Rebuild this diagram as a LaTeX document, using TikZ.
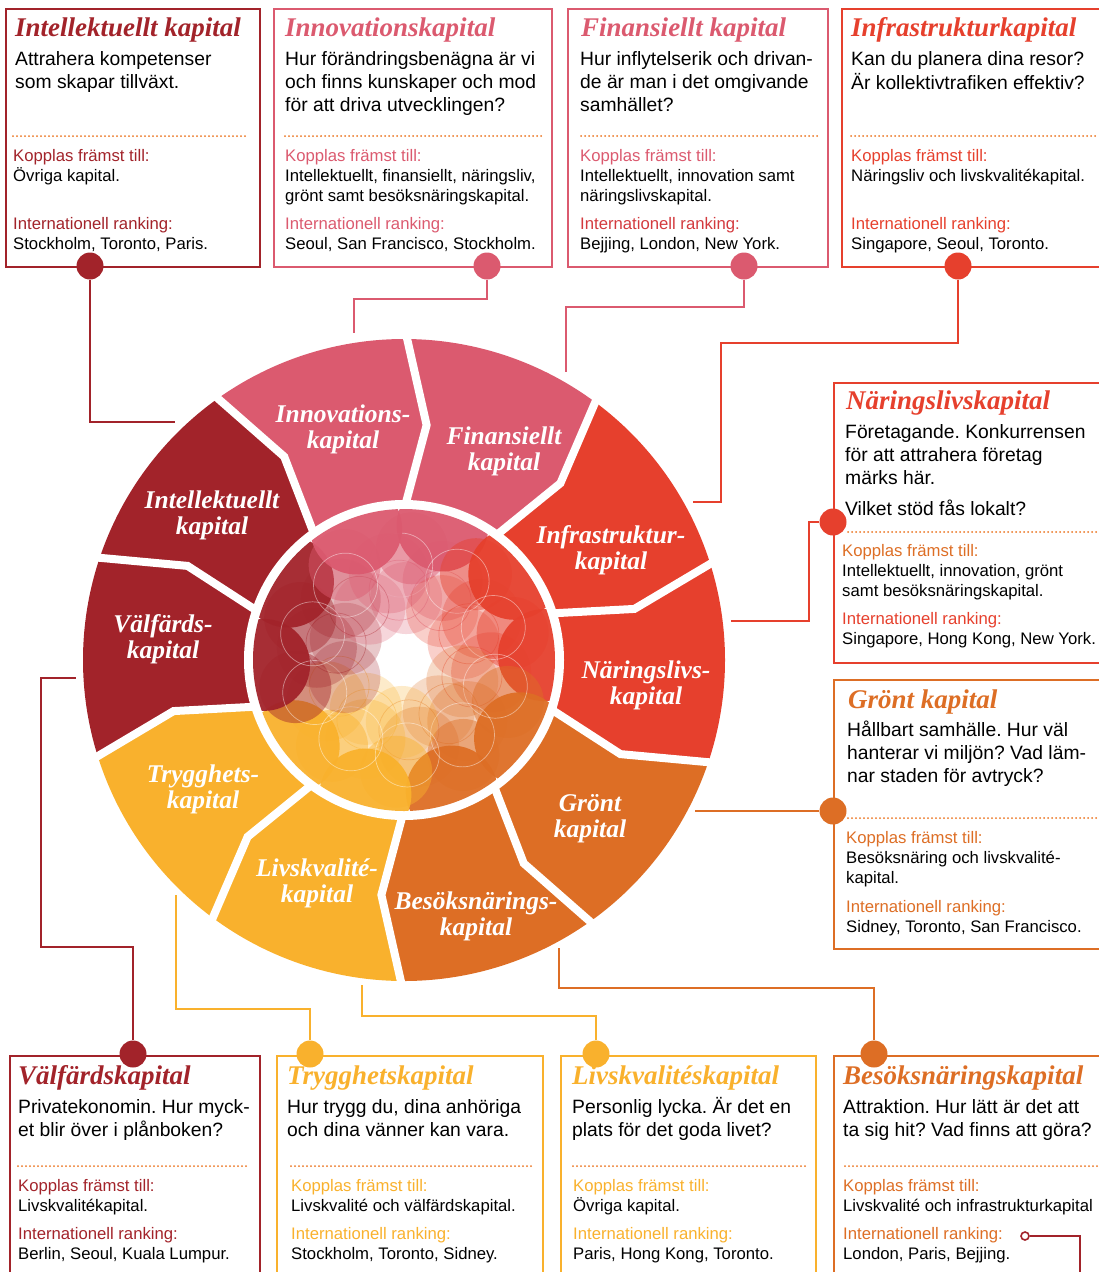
\documentclass[tikz,border=0pt]{standalone}
\usepackage{fontspec}
\setmainfont{Liberation Sans}
\newfontfamily\capfont{Liberation Serif}
\frenchspacing

\definecolor{darkredc}{HTML}{A2232A}
\definecolor{pinkc}{HTML}{DB5A6F}
\definecolor{redc}{HTML}{E6402D}
\definecolor{orangec}{HTML}{DD6E25}
\definecolor{yellowc}{HTML}{F9B12D}
\definecolor{rankred}{HTML}{D33A3E}
\definecolor{dotc}{HTML}{EA7420}

\tikzset{
  card/.style={draw=#1, line width=2.4pt, anchor=north west, inner sep=0pt},
  head/.style={text=#1, anchor=base west, inner sep=0pt, font=\capfont\bfseries\itshape\fontsize{27}{30}\selectfont},
  body/.style={anchor=north west, inner sep=0pt, align=left, font=\fontsize{19.3}{23}\selectfont},
  small/.style={anchor=north west, inner sep=0pt, align=left, font=\fontsize{16.7}{20}\selectfont},
  sepline/.style={dotc, line width=2pt, line cap=round, dash pattern=on 0pt off 4pt},
  knob/.style={circle, fill=#1, minimum size=27pt, inner sep=0pt},
  link/.style={draw=#1, line width=2.4pt},
  seglabel/.style={white, align=center, inner sep=0pt, font=\capfont\bfseries\itshape\fontsize{25.5}{26}\selectfont}
}

\begin{document}
\begin{tikzpicture}[x=1pt, y=-1pt]
\useasboundingbox (0,0) rectangle (1098,1272);

% wheel
\begin{scope}[shift={(404,660)}, yscale=-1]
  \foreach \col [count=\k from 0] in {pinkc,redc,redc,orangec,orangec,yellowc,yellowc,darkredc,darkredc,pinkc} {
    \pgfmathsetmacro\a{90-36*\k}
    \fill[\col] (\a:321) arc[start angle=\a, end angle=\a-36, radius=321]
      -- (\a-41.5:236) -- (\a-36:156) arc[start angle=\a-36, end angle=\a, radius=156]
      -- (\a-5.5:236) -- cycle;
  }
  \foreach \k in {0,...,9} {
    \pgfmathsetmacro\a{90-36*\k}
    \draw[white, line width=8pt, line join=miter] (\a:335) -- (\a-5.5:236) -- (\a:150);
  }
  \draw[white, line width=9pt] (0,0) circle[radius=155.5];
  \begin{scope}
    \clip (0,0) circle[radius=151];
    \foreach \col [count=\k from 0] in {pinkc,redc,redc,orangec,orangec,yellowc,yellowc,darkredc,darkredc,pinkc} {
      \pgfmathsetmacro\m{72-36*\k}
      \fill[\col, opacity=.25] (\m+16:62) circle[radius=36];
      \fill[\col, opacity=.3] (\m-8:88) circle[radius=40];
      \fill[\col, opacity=.45] (\m+14:112) circle[radius=36];
      \fill[\col, opacity=.95] (\m+2:140) circle[radius=46];
      \draw[white, opacity=.45, line width=.7pt] (\m+20:95) circle[radius=32];
      \draw[\col, opacity=.4, line width=.7pt] (\m-14:70) circle[radius=30];
    }
  \end{scope}
\end{scope}

\node[seglabel] (lInn) at (343,429) {Innovations-\\kapital};
\node[seglabel] (lFin) at (504,451) {Finansiellt\\kapital};
\node[seglabel] (lInf) at (611,550) {Infrastruktur-\\kapital};
\node[seglabel] (lNar) at (646,685) {Näringslivs-\\kapital};
\node[seglabel] (lGro) at (590,819) {Grönt\\kapital};
\node[seglabel] (lBes) at (476,916) {Besöksnärings-\\kapital};
\node[seglabel] (lLiv) at (317,883) {Livskvalité-\\kapital};
\node[seglabel] (lTry) at (203,789) {Trygghets-\\kapital};
\node[seglabel] (lVal) at (163,639) {Välfärds-\\kapital};
\node[seglabel] (lInt) at (212,515) {Intellektuellt\\kapital};

% cards, top row
\node[card=darkredc, minimum width=254pt, minimum height=258pt] (cInt) at (5,8) {};
\node[head=darkredc] (tInt) at (15,36) {Intellektuellt kapital};
\node[body] (bInt) at (15,49) {\strut Attrahera kompetenser\\som skapar tillväxt.};
\draw[sepline] (13,136) -- (248,136);
\node[small] (kInt) at (13,147) {\strut\textcolor{darkredc}{Kopplas främst till:}\\Övriga kapital.};
\node[small] (rInt) at (13,215) {\strut\textcolor{darkredc}{Internationell ranking:}\\Stockholm, Toronto, Paris.};

\node[card=pinkc, minimum width=278pt, minimum height=258pt] (cInn) at (273,8) {};
\node[head=pinkc] (tInn) at (285,36) {Innovationskapital};
\node[body] (bInn) at (285,49) {\strut Hur förändringsbenägna är vi\\och finns kunskaper och mod\\för att driva utvecklingen?};
\draw[sepline] (285,136) -- (541,136);
\node[small] (kInn) at (285,147) {\strut\textcolor{pinkc}{Kopplas främst till:}\\Intellektuellt, finansiellt, näringsliv,\\grönt samt besöksnäringskapital.};
\node[small] (rInn) at (285,215) {\strut\textcolor{pinkc}{Internationell ranking:}\\Seoul, San Francisco, Stockholm.};

\node[card=pinkc, minimum width=260pt, minimum height=258pt] (cFin) at (567,8) {};
\node[head=pinkc] (tFin) at (581,36) {Finansiellt kapital};
\node[body] (bFin) at (580,49) {\strut Hur inflytelserik och drivan-\\de är man i det omgivande\\samhället?};
\draw[sepline] (581,136) -- (817,136);
\node[small] (kFin) at (580,147) {\strut\textcolor{pinkc}{Kopplas främst till:}\\Intellektuellt, innovation samt\\näringslivskapital.};
\node[small] (rFin) at (580,215) {\strut\textcolor{rankred}{Internationell ranking:}\\Bejjing, London, New York.};

\node[card=redc, minimum width=275pt, minimum height=258pt] (cInf) at (841,8) {};
\node[head=redc] (tInf) at (851,36) {Infrastrukturkapital};
\node[body] (bInf) at (851,49) {\strut Kan du planera dina resor?\\Är kollektivtrafiken effektiv?};
\draw[sepline] (851,136) -- (1098,136);
\node[small] (kInf) at (851,147) {\strut\textcolor{redc}{Kopplas främst till:}\\Näringsliv och livskvalitékapital.};
\node[small] (rInf) at (851,215) {\strut\textcolor{redc}{Internationell ranking:}\\Singapore, Seoul, Toronto.};

% cards, right side
\node[card=redc, minimum width=280pt, minimum height=280pt] (cNar) at (833,382) {};
\node[head=redc] (tNar) at (846,409) {Näringslivskapital};
\node[body] (bNar) at (845,422) {\strut Företagande. Konkurrensen\\för att attrahera företag\\märks här.\\[8pt]Vilket stöd fås lokalt?};
\draw[sepline] (848,532) -- (1098,532);
\node[small] (kNar) at (842,542) {\strut\textcolor{orangec}{Kopplas främst till:}\\Intellektuellt, innovation, grönt\\samt besöksnäringskapital.};
\node[small] (rNar) at (842,610) {\strut\textcolor{redc}{Internationell ranking:}\\Singapore, Hong Kong, New York.};

\node[card=orangec, minimum width=280pt, minimum height=269pt] (cGro) at (833,679) {};
\node[head=orangec] (tGro) at (848,708) {Grönt kapital};
\node[body] (bGro) at (847,720) {\strut Hållbart samhälle. Hur väl\\hanterar vi miljön? Vad läm-\\nar staden för avtryck?};
\draw[sepline] (848,818) -- (1098,818);
\node[small] (kGro) at (846,829) {\strut\textcolor{orangec}{Kopplas främst till:}\\Besöksnäring och livskvalité-\\kapital.};
\node[small] (rGro) at (846,898) {\strut\textcolor{orangec}{Internationell ranking:}\\Sidney, Toronto, San Francisco.};

% cards, bottom row
\node[card=darkredc, minimum width=250pt, minimum height=240pt] (cVal) at (9,1055) {};
\node[head=darkredc] (tVal) at (18,1084) {Välfärdskapital};
\node[body] (bVal) at (18,1097) {\strut Privatekonomin. Hur myck-\\et blir över i plånboken?};
\draw[sepline] (18,1166) -- (248,1166);
\node[small] (kVal) at (18,1177) {\strut\textcolor{darkredc}{Kopplas främst till:}\\Livskvalitékapital.};
\node[small] (rVal) at (18,1225) {\strut\textcolor{darkredc}{Internationell ranking:}\\Berlin, Seoul, Kuala Lumpur.};

\node[card=yellowc, minimum width=266pt, minimum height=240pt] (cTry) at (276,1055) {};
\node[head=yellowc] (tTry) at (287,1084) {Trygghetskapital};
\node[body] (bTry) at (287,1097) {\strut Hur trygg du, dina anhöriga\\och dina vänner kan vara.};
\draw[sepline] (291,1166) -- (532,1166);
\node[small] (kTry) at (291,1177) {\strut\textcolor{yellowc}{Kopplas främst till:}\\Livskvalité och välfärdskapital.};
\node[small] (rTry) at (291,1225) {\strut\textcolor{yellowc}{Internationell ranking:}\\Stockholm, Toronto, Sidney.};

\node[card=yellowc, minimum width=255pt, minimum height=240pt] (cLiv) at (560,1055) {};
\node[head=yellowc] (tLiv) at (572,1084) {Livskvalitéskapital};
\node[body] (bLiv) at (572,1097) {\strut Personlig lycka. Är det en\\plats för det goda livet?};
\draw[sepline] (573,1166) -- (805,1166);
\node[small] (kLiv) at (573,1177) {\strut\textcolor{yellowc}{Kopplas främst till:}\\Övriga kapital.};
\node[small] (rLiv) at (573,1225) {\strut\textcolor{yellowc}{Internationell ranking:}\\Paris, Hong Kong, Toronto.};

\node[card=orangec, minimum width=280pt, minimum height=240pt] (cBes) at (833,1055) {};
\node[head=orangec] (tBes) at (843,1084) {Besöksnäringskapital};
\node[body] (bBes) at (843,1097) {\strut Attraktion. Hur lätt är det att\\ta sig hit? Vad finns att göra?};
\draw[sepline] (845,1166) -- (1098,1166);
\node[small] (kBes) at (843,1177) {\strut\textcolor{orangec}{Kopplas främst till:}\\Livskvalité och infrastrukturkapital};
\node[small] (rBes) at (843,1225) {\strut\textcolor{orangec}{Internationell ranking:}\\London, Paris, Bejjing.};

% connector ends at the wheel
\coordinate (eInt) at (175,422);
\coordinate (eInn) at (354,333);
\coordinate (eFin) at (566,372);
\coordinate (eInf) at (693,502);
\coordinate (eNar) at (731,621);
\coordinate (eGro) at (695,811);
\coordinate (eVal) at (76,678);
\coordinate (eTry) at (176,895);
\coordinate (eLiv) at (362,985);
\coordinate (eBes) at (559,948);
\coordinate (eOut) at (1080,1290);

\node[knob=darkredc] (dInt) at (90,266) {};
\node[knob=pinkc] (dInn) at (487,266) {};
\node[knob=pinkc] (dFin) at (744,266) {};
\node[knob=redc] (dInf) at (958,266) {};
\node[knob=redc] (dNar) at (833,522) {};
\node[knob=orangec] (dGro) at (833,811) {};
\node[knob=darkredc] (dVal) at (133,1054) {};
\node[knob=yellowc] (dTry) at (310,1054) {};
\node[knob=yellowc] (dLiv) at (596,1054) {};
\node[knob=orangec] (dBes) at (874,1054) {};
\node[circle, draw=darkredc, fill=white, line width=1.6pt, minimum size=8pt, inner sep=0pt] (oBes) at (1025,1236) {};

\draw[link=darkredc] (dInt) |- (eInt);
\draw[link=pinkc] (dInn) -- ++(0,33) -| (eInn);
\draw[link=pinkc] (dFin) -- ++(0,41) -| (eFin);
\draw[link=redc] (dInf) -- ++(0,77) -| ([xshift=28pt]eInf) -- (eInf);
\draw[link=redc] (dNar) -- ++(-24,0) |- (eNar);
\draw[link=orangec] (dGro) -- (eGro);
\draw[link=darkredc] (dVal) -- ++(0,-107) -| ([xshift=-35pt]eVal) -- (eVal);
\draw[link=yellowc] (dTry) -- ++(0,-45) -| (eTry);
\draw[link=yellowc] (dLiv) -- ++(0,-38) -| (eLiv);
\draw[link=orangec] (dBes) -- ++(0,-66) -| (eBes);
\draw[link=darkredc, line width=1.8pt] (oBes) -| (eOut);
\end{tikzpicture}
\end{document}
